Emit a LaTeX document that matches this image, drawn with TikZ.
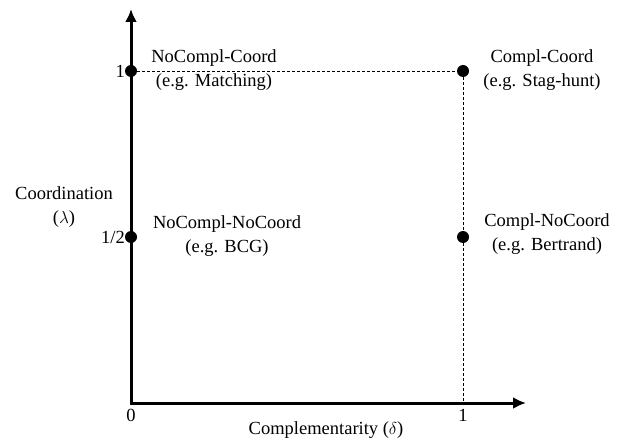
\documentclass[tikz,border=0pt]{standalone}
\usepackage{fontspec}
\setmainfont{Liberation Serif}
\usetikzlibrary{arrows.meta}
\begin{document}
\begin{tikzpicture}[x=1pt,y=-1pt,
  axis/.style={line width=3pt,-{Latex[length=13pt,width=12pt]}},
  guide/.style={dashed,line width=0.7pt,dash pattern=on 3pt off 2pt},
  dot/.style={circle,fill=black,inner sep=0pt,minimum size=12pt},
  lbl/.style={font=\fontsize{18.5}{22}\selectfont,inner sep=0pt,align=center},
  tick/.style={font=\fontsize{18.5}{22}\selectfont,inner sep=0pt}]
  \useasboundingbox (0,0) rectangle (617,446);
  % axes
  \coordinate (O) at (131,403);
  \coordinate (xend) at (526,403);
  \coordinate (yend) at (131,9);
  \draw[axis] (131,404.5) -- (yend);
  \draw[axis] (129.5,403) -- (xend);
  % points
  \node[dot] (nc) at (131,71) {};
  \node[dot] (cc) at (463,71) {};
  \node[dot] (nn) at (131,237) {};
  \node[dot] (cn) at (463,237) {};
  \coordinate (x1) at (463,403);
  % guides
  \draw[guide] (nc) -- (cc);
  \draw[guide] (cc) -- (cn);
  \draw[guide] (cn) -- (x1);
  % ticks
  \node[tick,anchor=east] (y1) at (125,71) {1};
  \node[tick,anchor=east] (yh) at (125,237) {1/2};
  \node[tick] (x0) at (131,415) {0};
  \node[tick] (x1l) at (463,415) {1};
  % axis labels
  \node[lbl] (ylab) at (64,207) {Coordination\\[2pt]($\lambda$)};
  \node[lbl] (xlab) at (326,430) {Complementarity ($\delta$)};
  % point labels
  \node[lbl] (lnc) at (214,70) {NoCompl-Coord\\[2pt](e.g. Matching)};
  \node[lbl] (lcc) at (542,70) {Compl-Coord\\[2pt](e.g. Stag-hunt)};
  \node[lbl] (lnn) at (227,236) {NoCompl-NoCoord\\[2pt](e.g. BCG)};
  \node[lbl] (lcn) at (547,234) {Compl-NoCoord\\[2pt](e.g. Bertrand)};
\end{tikzpicture}
\end{document}
